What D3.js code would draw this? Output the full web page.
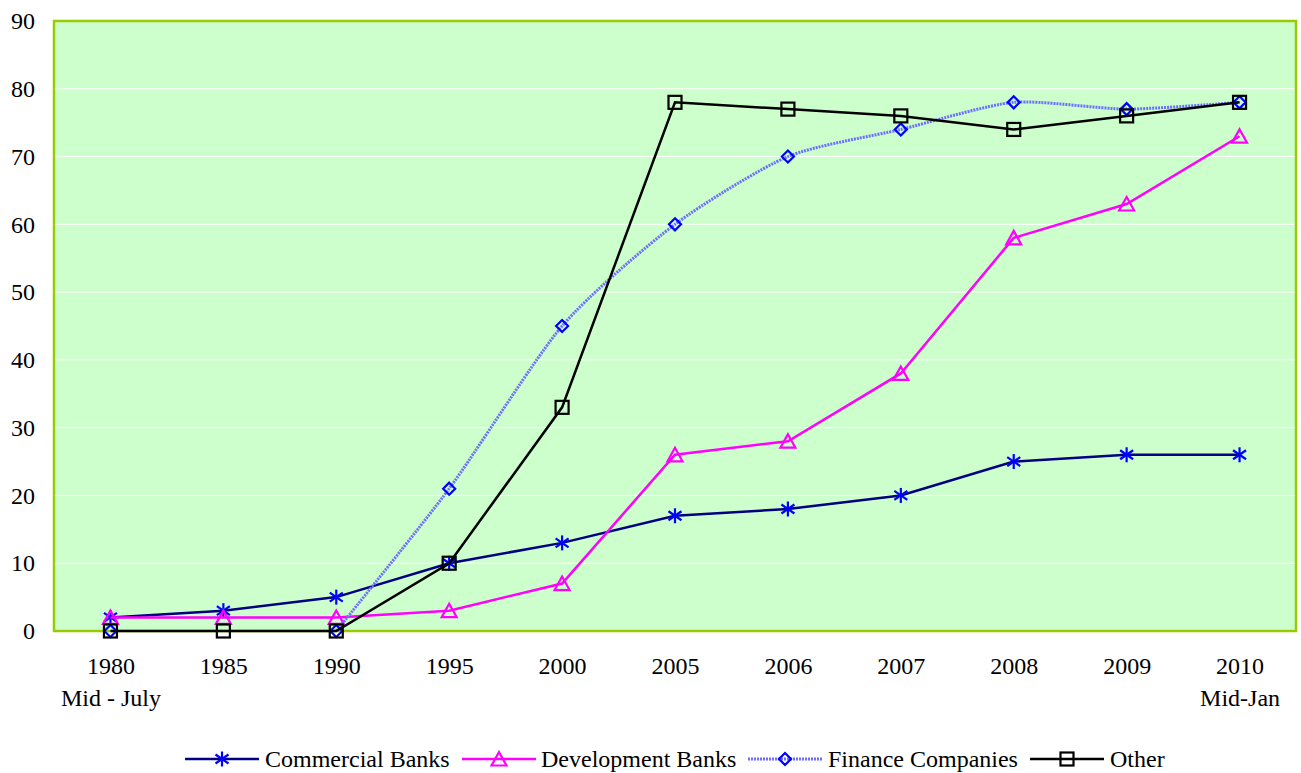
<!DOCTYPE html>
<html>
<head>
<meta charset="utf-8">
<script src="https://cdn.jsdelivr.net/npm/d3@7"></script>
<style>
  body { margin: 0; background: #fff; }
  svg { display: block; font-family: "Liberation Serif", "Times New Roman", serif; }
</style>
</head>
<body>
<svg id="chart" width="1301" height="773"></svg>
<script>
// chart data
const years = ['1980', '1985', '1990', '1995', '2000', '2005', '2006', '2007', '2008', '2009', '2010'];
const subLabels = {'1980': 'Mid - July', '2010': 'Mid-Jan'};
const commercialBanks = [2, 3, 5, 10, 13, 17, 18, 20, 25, 26, 26];
const developmentBanks = [2, 2, 2, 3, 7, 26, 28, 38, 58, 63, 73];
const financeCompanies = [0, null, 0, 21, 45, 60, 70, 74, 78, 77, 78];
const other = [0, 0, 0, 10, 33, 78, 77, 76, 74, 76, 78];
const yTicks = [0, 10, 20, 30, 40, 50, 60, 70, 80, 90];

const series = [
  {name: 'Commercial Banks', values: commercialBanks, line: '#000080', marker: '#0000ff', shape: 'star', width: 2.5},
  {name: 'Development Banks', values: developmentBanks, line: '#ff00ff', marker: '#ff00ff', shape: 'triangle', width: 2.5},
  {name: 'Finance Companies', values: financeCompanies, line: '#6f6fff', marker: '#0000ff', shape: 'diamond', width: 3, dash: '2,1', smooth: true},
  {name: 'Other', values: other, line: '#000000', marker: '#000000', shape: 'square', width: 2.5},
];

const svg = d3.select('#chart');
const plot = {left: 54, top: 21, right: 1296, bottom: 631};
const fontSize = 24;

const x = d3.scalePoint().domain(years)
  .range([plot.left, plot.right]).padding(0.5);
const y = d3.scaleLinear().domain([0, 90]).range([plot.bottom, plot.top]);

// plot area
svg.append('rect')
  .attr('x', plot.left).attr('y', plot.top)
  .attr('width', plot.right - plot.left).attr('height', plot.bottom - plot.top)
  .attr('fill', '#ccffcc');

svg.append('g').selectAll('line')
  .data(yTicks.filter(d => d > 0 && d < 90))
  .join('line')
  .attr('x1', plot.left).attr('x2', plot.right)
  .attr('y1', d => y(d)).attr('y2', d => y(d))
  .attr('stroke', '#ffffff').attr('stroke-width', 1);

svg.append('rect')
  .attr('x', plot.left).attr('y', plot.top)
  .attr('width', plot.right - plot.left).attr('height', plot.bottom - plot.top)
  .attr('fill', 'none').attr('stroke', '#99cc00').attr('stroke-width', 2.5);

// axes
const yAxis = svg.append('g')
  .attr('transform', `translate(${plot.left},0)`)
  .call(d3.axisLeft(y).tickValues(yTicks).tickSize(0).tickPadding(19));
yAxis.select('.domain').remove();
yAxis.selectAll('text')
  .attr('font-family', '"Liberation Serif", serif')
  .attr('font-size', fontSize).attr('fill', '#000');

const xAxis = svg.append('g')
  .attr('transform', `translate(0,${plot.bottom})`)
  .call(d3.axisBottom(x).tickSize(0).tickPadding(26));
xAxis.select('.domain').remove();
xAxis.selectAll('text')
  .attr('font-family', '"Liberation Serif", serif')
  .attr('font-size', fontSize).attr('fill', '#000');
xAxis.selectAll('.tick').filter(d => subLabels[d])
  .append('text')
  .attr('y', 75).attr('text-anchor', 'middle')
  .attr('font-family', '"Liberation Serif", serif')
  .attr('font-size', fontSize).attr('fill', '#000')
  .text(d => subLabels[d]);

// markers
function drawMarker(g, shape, color) {
  const sw = 2.2;
  if (shape === 'star') {
    [[-6.5, -4.5, 6.5, 4.5], [-6.5, 4.5, 6.5, -4.5], [0, -7.5, 0, 7.5]]
      .forEach(([x1, y1, x2, y2]) => g.append('line')
        .attr('x1', x1).attr('y1', y1).attr('x2', x2).attr('y2', y2)
        .attr('stroke', color).attr('stroke-width', sw));
  } else if (shape === 'triangle') {
    g.append('path').attr('d', 'M0,-7L7.5,6.5L-7.5,6.5Z')
      .attr('fill', 'none').attr('stroke', color).attr('stroke-width', sw);
  } else if (shape === 'diamond') {
    g.append('path').attr('d', 'M0,-6L6,0L0,6L-6,0Z')
      .attr('fill', 'none').attr('stroke', color).attr('stroke-width', sw);
  } else if (shape === 'square') {
    g.append('rect').attr('x', -6.5).attr('y', -6.5).attr('width', 13).attr('height', 13)
      .attr('fill', 'none').attr('stroke', color).attr('stroke-width', sw);
  }
}

// lines
series.forEach(s => {
  const pts = years.map((yr, i) => ({yr, v: s.values[i]}));
  const line = d3.line()
    .defined(d => d.v != null)
    .x(d => x(d.yr)).y(d => y(d.v))
    .curve(s.smooth ? d3.curveCardinal.tension(0.3) : d3.curveLinear);
  svg.append('path')
    .datum(pts)
    .attr('d', line)
    .attr('fill', 'none')
    .attr('stroke', s.line)
    .attr('stroke-width', s.width)
    .attr('stroke-dasharray', s.dash || null);
  pts.filter(d => d.v != null).forEach(d => {
    const g = svg.append('g').attr('transform', `translate(${x(d.yr)},${y(d.v)})`);
    drawMarker(g, s.shape, s.marker);
  });
});

// legend
const legendItems = [
  {x0: 185, tx: 265},
  {x0: 462, tx: 541},
  {x0: 748, tx: 828},
  {x0: 1030, tx: 1110},
];
const ly = 759;
series.forEach((s, i) => {
  const li = legendItems[i];
  const g = svg.append('g');
  g.append('line')
    .attr('x1', li.x0).attr('x2', li.x0 + 74)
    .attr('y1', ly).attr('y2', ly)
    .attr('stroke', s.line).attr('stroke-width', s.width)
    .attr('stroke-dasharray', s.dash || null);
  drawMarker(g.append('g').attr('transform', `translate(${li.x0 + 37},${ly})`), s.shape, s.marker);
  g.append('text')
    .attr('x', li.tx).attr('y', ly).attr('dy', '0.35em')
    .attr('font-size', fontSize).attr('fill', '#000')
    .text(s.name);
});
</script>
</body>
</html>
